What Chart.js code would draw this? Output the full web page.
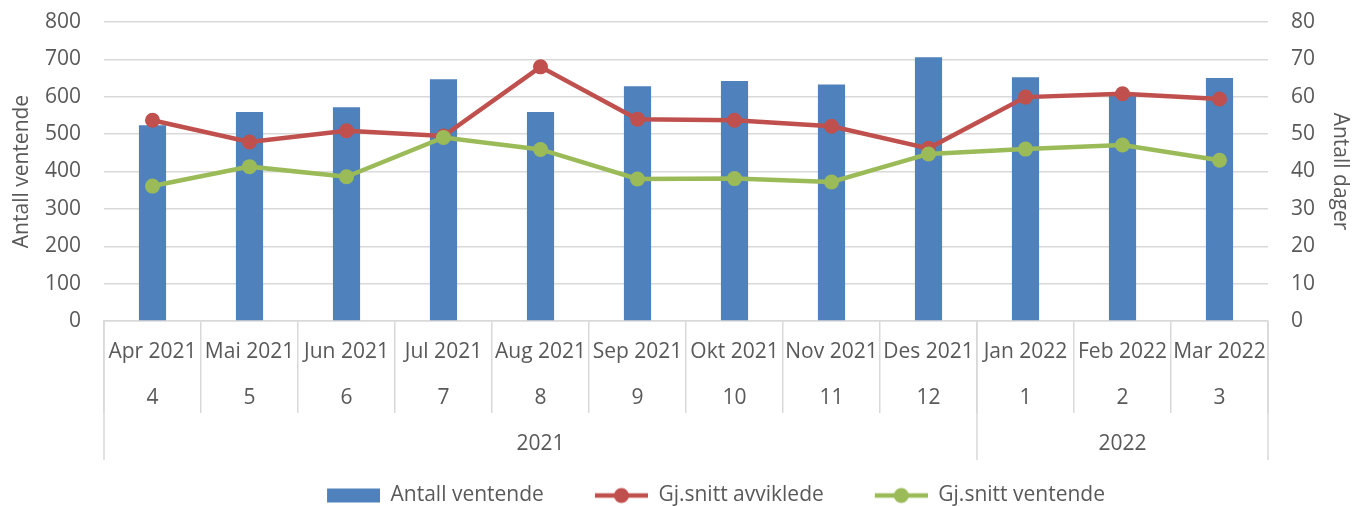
<!DOCTYPE html>
<html>
<head>
<meta charset="utf-8">
<script src="https://cdn.jsdelivr.net/npm/chart.js@4/dist/chart.umd.min.js"></script>
<style>
  html, body { margin: 0; padding: 0; background: #fff; }
  #wrap { width: 1357px; height: 506px; }
</style>
</head>
<body>
<div id="wrap"><canvas id="myChart" width="1357" height="506"></canvas></div>
<script>
const months = ['Apr 2021', 'Mai 2021', 'Jun 2021', 'Jul 2021', 'Aug 2021', 'Sep 2021',
  'Okt 2021', 'Nov 2021', 'Des 2021', 'Jan 2022', 'Feb 2022', 'Mar 2022'];
const monthNums = ['4', '5', '6', '7', '8', '9', '10', '11', '12', '1', '2', '3'];
const yearLabels = ['2021', '2022'];
const yearSpans = [9, 3];

const antallVentende = [524, 559, 572, 647, 559, 628, 642, 633, 706, 652, 607, 650];
const snittAvviklede = [53.7, 47.9, 50.9, 49.5, 68.0, 54.0, 53.7, 52.1, 46.2, 59.9, 60.8, 59.4];
const snittVentende = [36.1, 41.3, 38.6, 49.1, 45.9, 38.0, 38.1, 37.2, 44.7, 46.0, 47.1, 43.0];

const BLUE = '#4f81bd';
const RED = '#c0504d';
const GREEN = '#9bbb59';
const TEXT = '#595959';
const GRID = '#d9d9d9';
const FONT = "'Open Sans', sans-serif";
const SW = 104; // legend box width, swatch sits at its right end

// third label line holds the year, put in the middle of its group
const yearLine = months.map(() => '');
let start = 0;
yearSpans.forEach((span, i) => {
  yearLine[start + Math.floor(span / 2)] = yearLabels[i];
  start += span;
});
const labels = months.map((m, i) => [m, monthNums[i], yearLine[i]]);

// legend swatches
function swatch(kind, color) {
  const c = document.createElement('canvas');
  c.width = SW; c.height = 20;
  const g = c.getContext('2d');
  const x0 = SW - 53;
  if (kind === 'bar') {
    g.fillStyle = color;
    g.fillRect(x0, 3, 53, 14);
  } else {
    g.strokeStyle = color;
    g.lineWidth = 4.5;
    g.beginPath(); g.moveTo(x0, 10); g.lineTo(SW, 10); g.stroke();
    g.fillStyle = color;
    g.beginPath(); g.arc(x0 + 26.5, 10, 7.5, 0, Math.PI * 2); g.fill();
  }
  return c;
}

// outer separators for the year level of the axis
const yearLines = {
  id: 'yearLines',
  afterDraw(chart) {
    const x = chart.scales.x;
    const ctx = chart.ctx;
    const stops = [x.left];
    let idx = 0;
    yearSpans.forEach(span => {
      idx += span;
      if (idx < months.length) {
        stops.push((x.getPixelForValue(idx - 1) + x.getPixelForValue(idx)) / 2);
      }
    });
    stops.push(x.right);
    ctx.save();
    ctx.strokeStyle = GRID;
    ctx.lineWidth = 1.5;
    stops.forEach(px => {
      ctx.beginPath();
      ctx.moveTo(px, x.top);
      ctx.lineTo(px, x.top + 139);
      ctx.stroke();
    });
    ctx.restore();
  }
};

const legendItems = [
  { text: 'Antall ventende', kind: 'bar', color: BLUE, ds: 2 },
  { text: 'Gj.snitt avviklede', kind: 'line', color: RED, ds: 1 },
  { text: 'Gj.snitt ventende', kind: 'line', color: GREEN, ds: 0 }
];

const ctx = document.getElementById('myChart').getContext('2d');
const myChart = new Chart(ctx, {
  type: 'bar',
  data: {
    labels: labels,
    datasets: [{
      type: 'line',
      label: 'Gj.snitt ventende',
      data: snittVentende,
      yAxisID: 'y1',
      borderColor: GREEN,
      backgroundColor: GREEN,
      borderWidth: 4.5,
      pointRadius: 7.5,
      pointBorderWidth: 0,
      pointBackgroundColor: GREEN,
      tension: 0,
      order: 0
    }, {
      type: 'line',
      label: 'Gj.snitt avviklede',
      data: snittAvviklede,
      yAxisID: 'y1',
      borderColor: RED,
      backgroundColor: RED,
      borderWidth: 4.5,
      pointRadius: 7.5,
      pointBorderWidth: 0,
      pointBackgroundColor: RED,
      tension: 0,
      order: 1
    }, {
      label: 'Antall ventende',
      data: antallVentende,
      yAxisID: 'y',
      backgroundColor: BLUE,
      categoryPercentage: 1,
      barPercentage: 0.28,
      order: 2
    }]
  },
  options: {
    responsive: false,
    animation: false,
    layout: { padding: { top: 22, left: 24, right: 0, bottom: -10 } },
    plugins: {
      tooltip: { enabled: false },
      legend: {
        position: 'bottom',
        labels: {
          usePointStyle: true,
          pointStyleWidth: SW,
          padding: 0,
          color: TEXT,
          font: { family: FONT, size: 21 },
          generateLabels: () => legendItems.map(it => ({
            text: it.text, pointStyle: swatch(it.kind, it.color),
            fontColor: TEXT, lineWidth: 0, datasetIndex: it.ds
          }))
        }
      }
    },
    scales: {
      x: {
        offset: true,
        grid: { drawOnChartArea: false, offset: true, tickLength: 92, color: GRID, lineWidth: 1.5 },
        border: { color: GRID, width: 1.5 },
        ticks: {
          autoSkip: false, maxRotation: 0, minRotation: 0,
          padding: -84,
          color: TEXT,
          font: { family: FONT, size: 21, lineHeight: 46 / 21 }
        },
        afterFit: s => { s.height = 164; }
      },
      y: {
        position: 'left',
        min: 0, max: 800,
        ticks: { stepSize: 100, padding: 0, color: TEXT, font: { family: FONT, size: 21 } },
        grid: { color: GRID, lineWidth: 1.5, drawTicks: true, tickLength: 23, tickColor: 'rgba(0,0,0,0)' },
        border: { display: false },
        title: { display: true, text: 'Antall ventende', color: TEXT, font: { family: FONT, size: 21 }, padding: { top: -14.6, bottom: 0 } },
        afterFit: s => { s.width = 80; }
      },
      y1: {
        position: 'right',
        min: 0, max: 80,
        ticks: { stepSize: 10, padding: 0, color: TEXT, font: { family: FONT, size: 21 } },
        grid: { drawOnChartArea: false, drawTicks: true, tickLength: 23, tickColor: 'rgba(0,0,0,0)' },
        border: { display: false },
        title: { display: true, text: 'Antall dager', color: TEXT, font: { family: FONT, size: 21 }, padding: { top: 4, bottom: 0 } },
        afterFit: s => { s.width = 89; }
      }
    }
  },
  plugins: [yearLines]
});
</script>
</body>
</html>
